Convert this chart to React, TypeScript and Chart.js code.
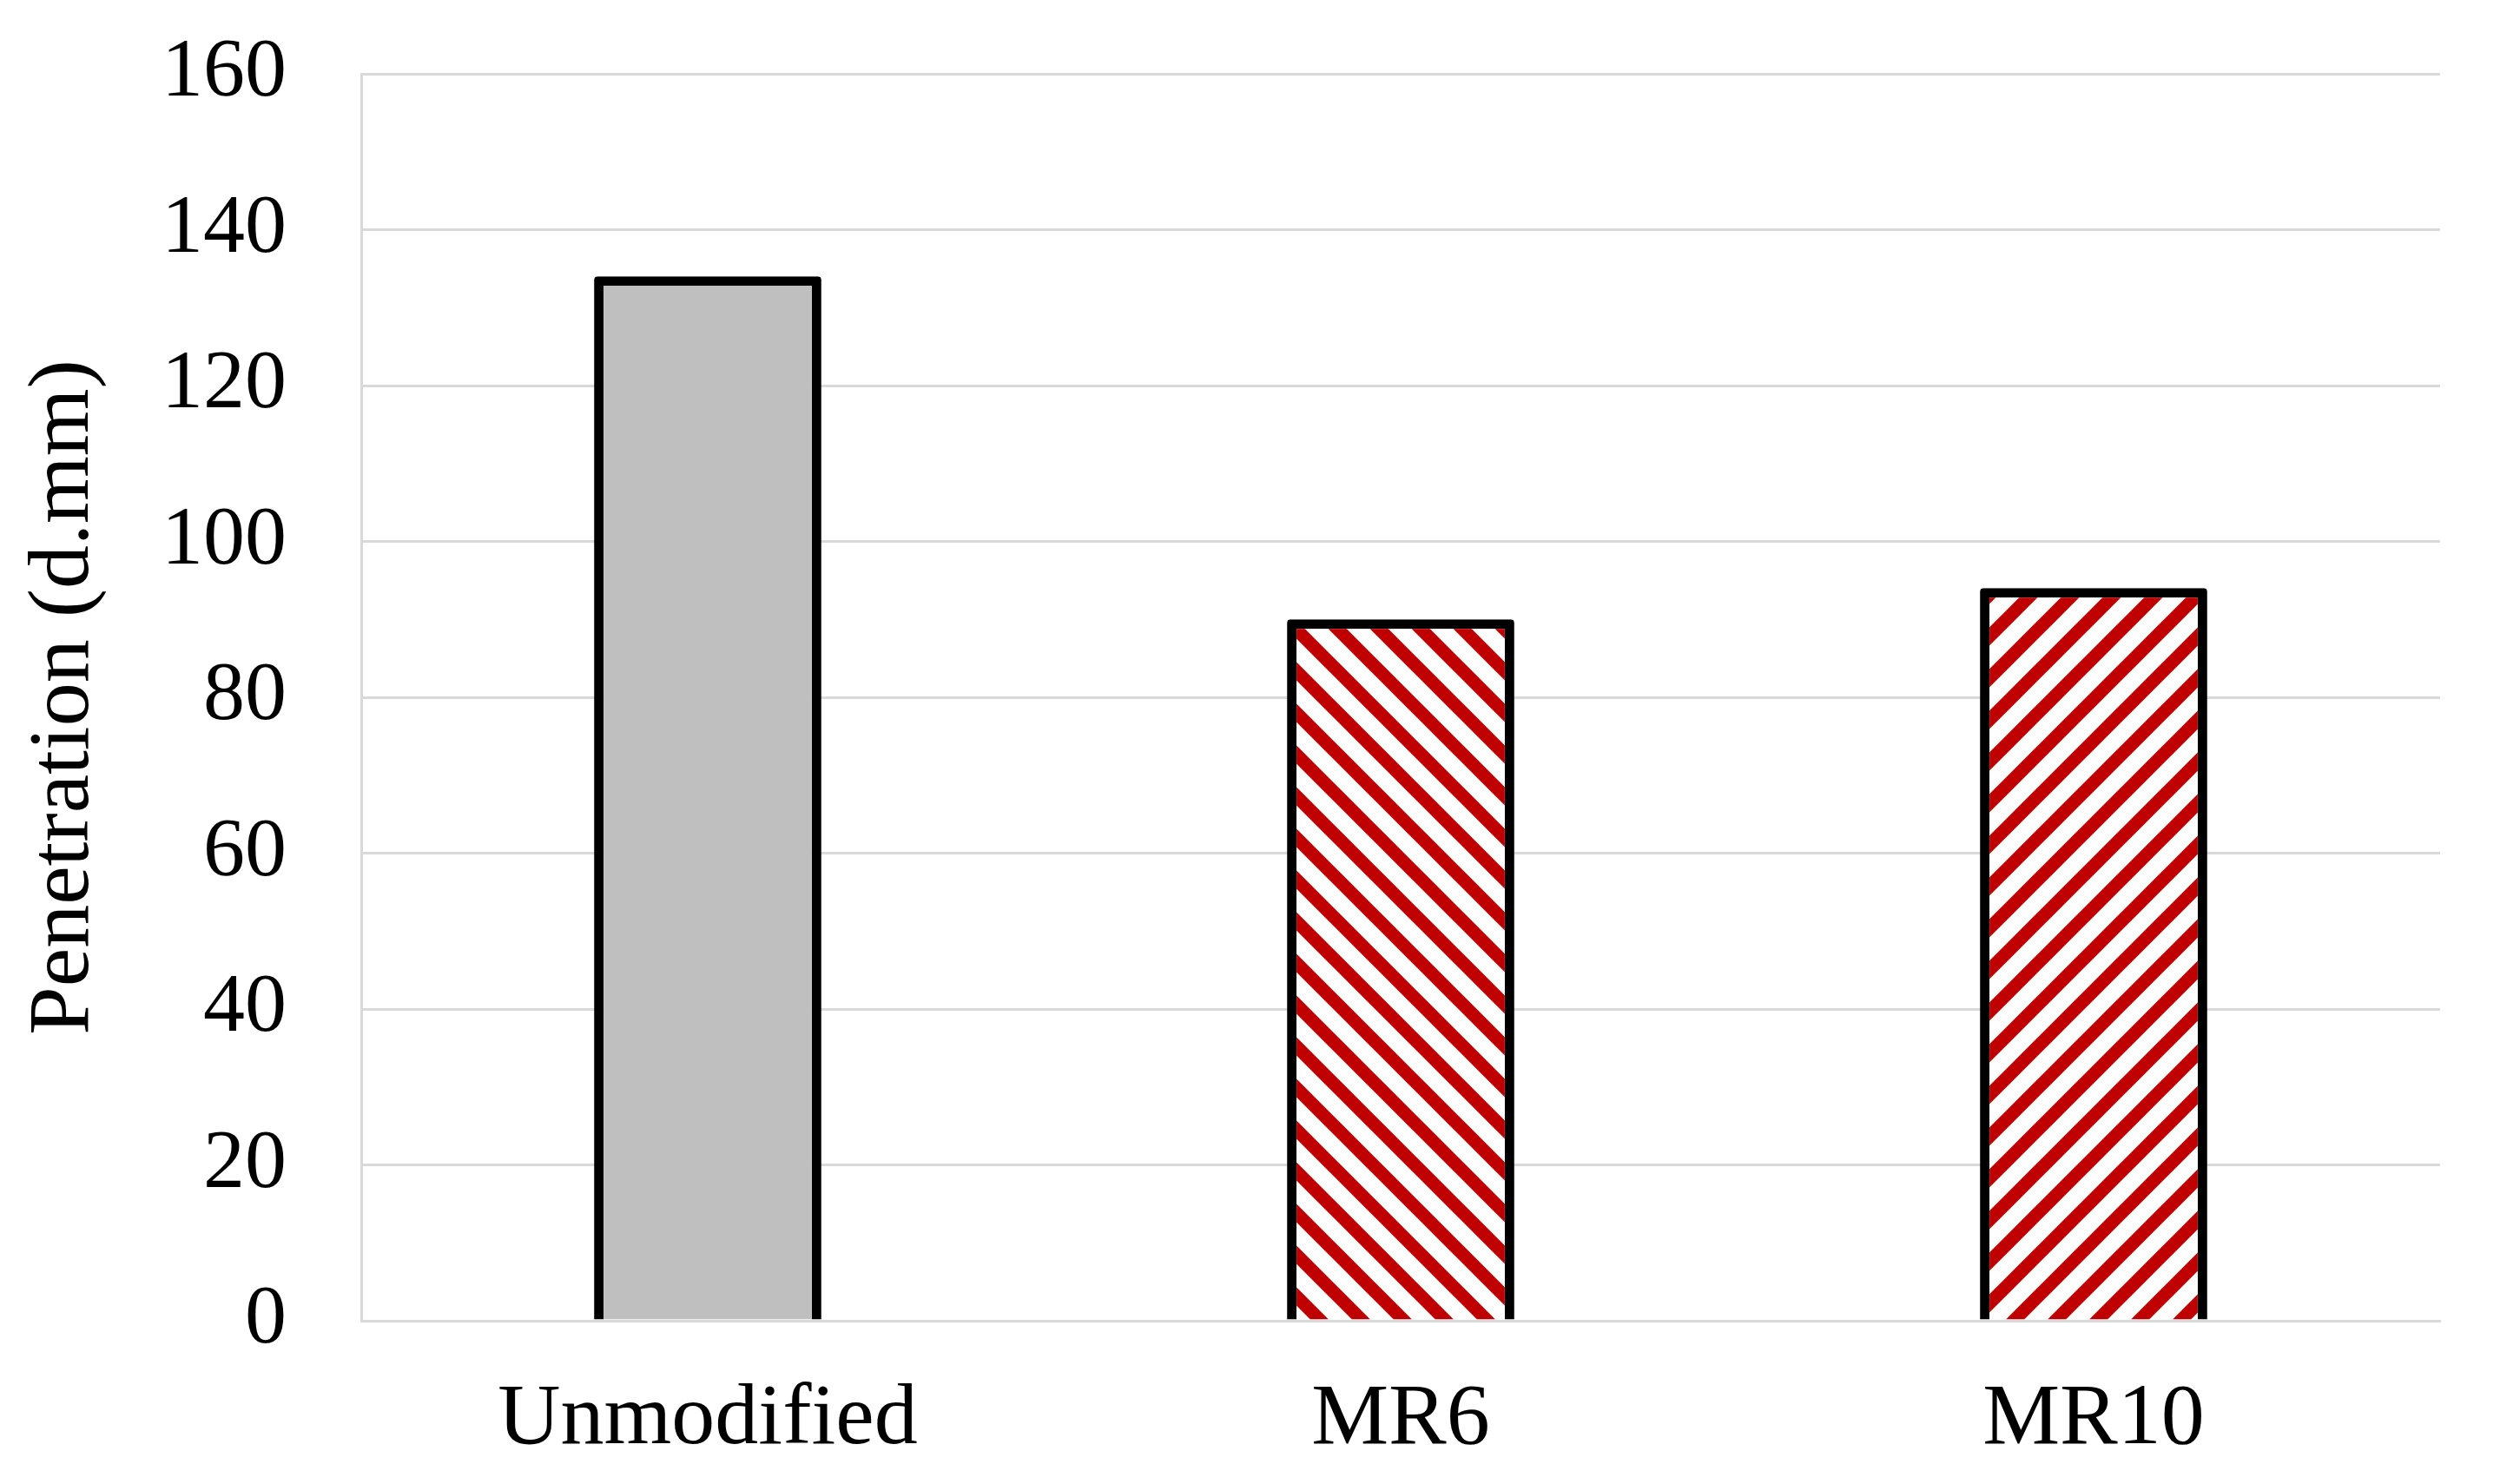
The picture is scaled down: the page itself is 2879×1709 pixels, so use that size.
import React, { useEffect, useRef } from "react";
import { Chart, registerables } from "chart.js";

Chart.register(...registerables);

const categories = ["Unmodified", "MR6", "MR10"];
const penetration = [134, 90, 94];
const yTicks = [0, 20, 40, 60, 80, 100, 120, 140, 160];

const W = 2879;
const H = 1709;

function makeHatch(dir: "back" | "fwd"): CanvasPattern | string {
  const s = 48;
  const c = document.createElement("canvas");
  c.width = s;
  c.height = s;
  const ctx = c.getContext("2d");
  if (!ctx) return "#c00000";
  ctx.fillStyle = "#ffffff";
  ctx.fillRect(0, 0, s, s);
  ctx.strokeStyle = "#c00000";
  ctx.lineWidth = 15;
  ctx.beginPath();
  for (const k of [-1, 0, 1]) {
    if (dir === "back") {
      ctx.moveTo(k * s - s, -s);
      ctx.lineTo(k * s + 2 * s, 2 * s);
    } else {
      ctx.moveTo(k * s - s, 2 * s);
      ctx.lineTo(k * s + 2 * s, -s);
    }
  }
  ctx.stroke();
  const p = ctx.createPattern(c, "repeat");
  return p || "#c00000";
}

export default function App() {
  const ref = useRef<HTMLCanvasElement | null>(null);

  useEffect(() => {
    if (!ref.current) return;
    const fills = ["#bfbfbf", makeHatch("back"), makeHatch("fwd")];
    const family = "'Liberation Serif', 'Times New Roman', serif";
    const font = { family, size: 100, lineHeight: 1.2 };
    const yFont = { family, size: 96, lineHeight: 1.2 };
    const chart = new Chart(ref.current, {
      type: "bar",
      data: {
        labels: categories,
        datasets: [
          {
            label: "Penetration",
            data: penetration,
            backgroundColor: fills as any,
            borderColor: "#000000",
            borderWidth: 11,
            borderRadius: 4,
            borderSkipped: "bottom",
            categoryPercentage: 1,
            barPercentage: 0.328,
          },
        ],
      },
      options: {
        animation: false,
        responsive: false,
        maintainAspectRatio: false,
        layout: { padding: { top: 85, right: 69, left: 0, bottom: 0 } },
        plugins: { legend: { display: false }, tooltip: { enabled: false } },
        scales: {
          x: {
            grid: { display: false, drawTicks: false },
            border: { display: true, color: "#d9d9d9", width: 3 },
            ticks: { color: "#000000", font, padding: 55 },
            afterFit: (scale: any) => {
              scale.height = H - 1521;
              scale.paddingLeft = 0;
              scale.paddingRight = 0;
            },
          },
          y: {
            min: 0,
            max: 160,
            afterBuildTicks: (scale: any) => {
              scale.ticks = yTicks.map((v) => ({ value: v }));
            },
            grid: { color: "#d9d9d9", lineWidth: 3, drawTicks: false },
            border: { display: true, color: "#d9d9d9", width: 3 },
            ticks: { color: "#000000", font: yFont, padding: 86 },
            title: {
              display: true,
              text: "Penetration (d.mm)",
              color: "#000000",
              font,
              padding: { top: 15, bottom: 0 },
            },
            afterFit: (scale: any) => {
              scale.width = 416;
              scale.paddingTop = 0;
              scale.paddingBottom = 0;
            },
          },
        },
      },
    });
    return () => chart.destroy();
  }, []);

  return (
    <div style={{ position: "fixed", left: 0, top: 0, width: W, height: H, background: "#ffffff" }}>
      <canvas ref={ref} width={W} height={H} style={{ width: W, height: H, display: "block" }} />
    </div>
  );
}
